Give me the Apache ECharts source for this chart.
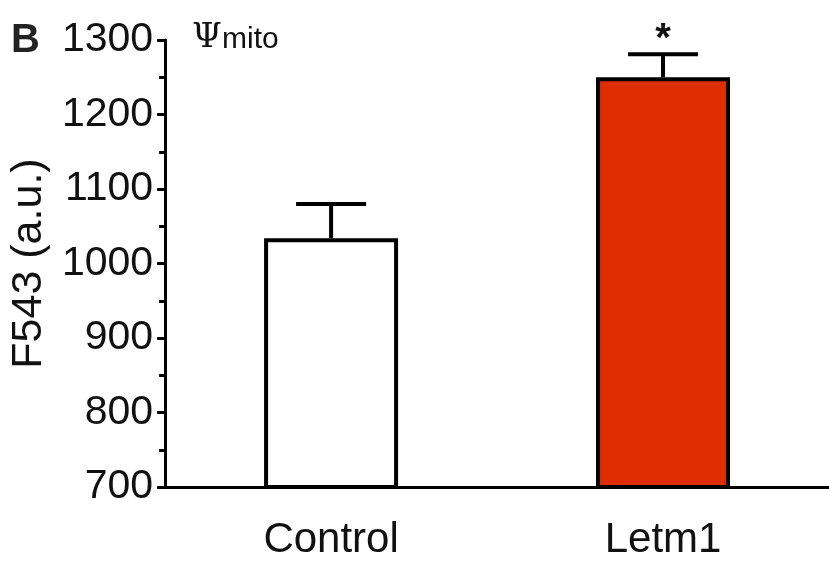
<!DOCTYPE html>
<html><head><meta charset="utf-8">
<script src="https://cdn.jsdelivr.net/npm/echarts@6/dist/echarts.min.js"></script>
<style>html,body{margin:0;padding:0;background:#fff}#c{width:829px;height:562px}</style>
</head><body><div id="c"></div>
<script>
const categories = ['Control', 'Letm1'];
const means = [1034, 1250];
const errTops = [1080, 1281];
const significance = ['', '*'];
const barColors = ['#ffffff', '#de2d00'];
const yTicks = [700, 800, 900, 1000, 1100, 1200, 1300];

const FONT = '"Liberation Sans", Arial, sans-serif';
const chart = echarts.init(document.getElementById('c'), null, {renderer: 'canvas'});
chart.setOption({
  animation: false,
  backgroundColor: '#fff',
  grid: {left: 163, top: 40, width: 674, height: 447, containLabel: false},
  graphic: [
    {type: 'text', left: 11, top: 21, style: {text: 'B', font: 'bold 40px ' + FONT, fill: '#222'}},
    {type: 'text', left: 192, top: 21, style: {text: 'Ψ', font: '34px "DejaVu Serif", "Liberation Serif", serif', fill: '#111'}},
    {type: 'text', left: 222, top: 25, style: {text: 'mito', font: '30px ' + FONT, fill: '#111'}}
  ],
  xAxis: {
    type: 'category', data: categories,
    axisLine: {lineStyle: {color: '#000', width: 3}},
    axisTick: {alignWithLabel: true, length: 9, lineStyle: {color: '#000', width: 3}},
    axisLabel: {color: '#111', fontSize: 42, fontFamily: FONT, margin: 32}
  },
  yAxis: {
    type: 'value', min: yTicks[0], max: yTicks[yTicks.length - 1], interval: 100,
    name: 'F543 (a.u.)', nameLocation: 'middle', nameGap: 95, nameRotate: 90,
    nameTextStyle: {color: '#111', fontSize: 43, fontFamily: FONT},
    splitLine: {show: false},
    axisLine: {show: true, lineStyle: {color: '#000', width: 3}},
    axisTick: {show: true, inside: false, length: 8, lineStyle: {color: '#000', width: 3}},
    minorTick: {show: true, splitNumber: 2, length: 6, lineStyle: {color: '#000', width: 3}},
    axisLabel: {color: '#111', fontSize: 41, fontFamily: FONT, margin: 12, formatter: v => String(v)}
  },
  series: [
    {
      type: 'bar', barWidth: 134,
      data: means.map((v, i) => ({value: v, itemStyle: {color: barColors[i]}})),
      itemStyle: {borderColor: '#000', borderWidth: 4},
      z: 2
    },
    {
      type: 'custom', z: 3,
      data: categories.map((c, i) => [i, means[i], errTops[i], significance[i]]),
      renderItem: function (params, api) {
        const x = api.value(0);
        const base = api.coord([x, api.value(1)]);
        const top = api.coord([x, api.value(2)]);
        const half = 35;
        const children = [
          {type: 'line', shape: {x1: base[0], y1: base[1], x2: top[0], y2: top[1]}, style: {stroke: '#000', lineWidth: 4}},
          {type: 'line', shape: {x1: top[0] - half, y1: top[1], x2: top[0] + half, y2: top[1]}, style: {stroke: '#000', lineWidth: 4}}
        ];
        const sig = significance[params.dataIndex];
        if (sig) {
          children.push({type: 'text', x: top[0], y: top[1] + 6, style: {text: sig, font: 'bold 40px ' + FONT, fill: '#111', align: 'center', verticalAlign: 'bottom'}});
        }
        return {type: 'group', children: children};
      }
    }
  ]
});
</script></body></html>
